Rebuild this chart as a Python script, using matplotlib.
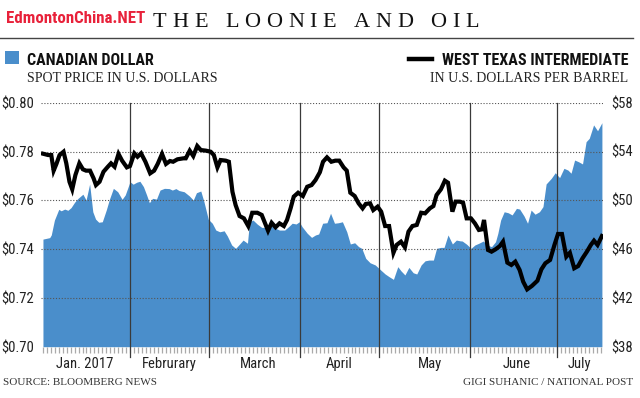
import matplotlib
matplotlib.use("Agg")
import matplotlib.pyplot as plt
from matplotlib import font_manager
import matplotlib.transforms as mtransforms

# ---------------- data (weekday index from Jan 2, 2017) ----------------
cad_day = [0.0, 1.7, 2.1, 2.9, 4.0, 4.6, 5.5, 6.3, 7.1, 8.0, 8.8, 10.1, 10.9, 11.8, 12.6, 13.3,
           14.1, 15.0, 16.0, 16.8, 17.8, 18.9, 20.0, 20.8, 22.0, 22.8, 23.7, 24.5, 25.4, 26.2,
           26.9, 27.7, 28.7, 29.6, 30.7, 31.9, 32.7, 33.6, 34.4, 35.7, 37.0, 38.0, 38.8, 39.9,
           40.7, 41.8, 42.8, 43.7, 44.7, 45.8, 46.6, 47.7, 48.7, 49.5, 50.6, 51.7, 52.2, 53.1,
           54.2, 55.3, 56.4, 57.5, 58.8, 59.8, 61.1, 62.1, 63.0, 64.0, 64.8, 65.5, 66.8, 67.9,
           68.9, 69.7, 70.7, 71.8, 72.7, 73.7, 74.7, 75.7, 76.8, 77.7, 78.8, 79.8, 80.6, 81.6,
           82.7, 84.0, 85.2, 86.5, 87.5, 88.6, 89.7, 90.5, 91.5, 92.5, 93.6, 94.5, 95.6, 96.6,
           97.6, 98.7, 99.5, 100.6, 101.4, 102.4, 103.5, 104.5, 105.4, 106.0, 107.1, 108.2,
           109.2, 110.2, 111.3, 112.3, 113.4, 114.4, 115.0, 115.7, 116.6, 117.6, 118.6, 119.7,
           120.5, 121.6, 122.5, 123.4, 124.4, 125.5, 126.4, 127.2, 128.5, 129.5, 130.6, 131.7,
           132.7, 133.5, 134.4, 135.4, 136.4, 137.3, 138.1, 139.2, 140.2, 141.3]
cad_val = [0.7441, 0.7447, 0.7458, 0.7519, 0.7563, 0.7557, 0.7564, 0.7559, 0.7570, 0.7592,
           0.7607, 0.7625, 0.7601, 0.7667, 0.7553, 0.7523, 0.7510, 0.7512, 0.7560, 0.7604,
           0.7649, 0.7635, 0.7604, 0.7622, 0.7676, 0.7666, 0.7674, 0.7678, 0.7656, 0.7622,
           0.7590, 0.7608, 0.7605, 0.7642, 0.7649, 0.7648, 0.7642, 0.7648, 0.7640, 0.7635,
           0.7618, 0.7601, 0.7631, 0.7638, 0.7594, 0.7522, 0.7506, 0.7478, 0.7471, 0.7475,
           0.7454, 0.7417, 0.7403, 0.7417, 0.7437, 0.7424, 0.7512, 0.7519, 0.7502, 0.7489,
           0.7489, 0.7499, 0.7485, 0.7478, 0.7478, 0.7492, 0.7506, 0.7503, 0.7512, 0.7492,
           0.7465, 0.7448, 0.7458, 0.7462, 0.7506, 0.7508, 0.7547, 0.7506, 0.7508, 0.7512,
           0.7471, 0.7421, 0.7426, 0.7410, 0.7403, 0.7362, 0.7344, 0.7335, 0.7317, 0.7298,
           0.7287, 0.7276, 0.7328, 0.7311, 0.7294, 0.7325, 0.7303, 0.7298, 0.7335, 0.7352,
           0.7355, 0.7355, 0.7403, 0.7407, 0.7407, 0.7458, 0.7421, 0.7437, 0.7434, 0.7433,
           0.7420, 0.7403, 0.7417, 0.7424, 0.7433, 0.7417, 0.7410, 0.7430, 0.7465, 0.7519,
           0.7553, 0.7549, 0.7540, 0.7567, 0.7564, 0.7536, 0.7506, 0.7560, 0.7543, 0.7553,
           0.7574, 0.7667, 0.7690, 0.7713, 0.7693, 0.7731, 0.7724, 0.7711, 0.7765, 0.7758,
           0.7749, 0.7840, 0.7854, 0.7909, 0.7885, 0.7918]

oil_day = [0.0, 1.3, 2.1, 2.7, 3.4, 4.2, 5.2, 5.9, 6.7, 7.4, 8.2, 9.2, 10.1, 10.9, 11.9, 12.8,
           13.4, 14.3, 15.3, 16.4, 17.2, 18.1, 19.1, 20.0, 21.2, 22.0, 23.1, 23.9, 24.8, 25.9,
           27.1, 28.1, 29.0, 30.1, 31.1, 32.1, 32.9, 34.0, 35.5, 36.1, 37.1, 38.0, 39.0, 39.9,
           41.2, 42.4, 43.2, 44.1, 44.9, 46.2, 47.0, 47.9, 48.7, 49.7, 50.8, 51.9, 52.9, 54.2,
           55.3, 56.1, 56.9, 57.8, 58.8, 59.8, 60.9, 61.7, 62.6, 63.4, 64.5, 65.7, 66.8, 67.9,
           68.9, 70.0, 70.8, 71.8, 72.9, 73.9, 74.9, 76.0, 76.8, 77.7, 78.8, 79.8, 80.8, 81.6,
           82.7, 83.5, 84.6, 85.5, 86.5, 87.5, 88.6, 89.4, 90.5, 91.5, 92.4, 93.4, 94.5, 95.6,
           96.6, 97.8, 98.7, 99.5, 100.6, 101.6, 102.4, 103.5, 104.3, 105.4, 106.2, 107.1,
           108.2, 109.2, 110.2, 111.0, 111.5, 112.1, 112.5, 113.4, 114.4, 115.5, 116.3, 117.4,
           118.4, 119.4, 120.5, 121.4, 122.4, 123.6, 125.0, 126.0, 127.0, 128.2, 129.3, 130.2,
           131.2, 132.3, 133.2, 134.3, 135.3, 136.4, 137.5, 138.5, 139.3, 140.2, 141.3]
oil_val = [53.82, 53.71, 53.71, 52.43, 52.98, 53.71, 53.98, 53.03, 51.52, 50.90, 52.07, 53.03,
           52.54, 52.43, 52.43, 51.80, 51.25, 51.52, 52.34, 52.75, 53.03, 52.75, 53.80, 53.25,
           52.70, 52.81, 53.85, 53.57, 53.85, 53.16, 52.21, 52.43, 52.98, 53.80, 52.98, 53.22,
           53.16, 53.36, 53.44, 53.44, 54.07, 53.63, 54.45, 54.12, 54.07, 53.98, 53.71, 52.70,
           53.30, 53.25, 53.16, 50.70, 49.61, 48.71, 48.52, 47.89, 48.98, 48.98, 48.80, 48.16,
           47.51, 48.16, 47.79, 48.11, 47.89, 48.39, 49.34, 50.30, 50.62, 50.35, 51.11, 51.25,
           51.66, 52.30, 53.16, 53.52, 53.16, 53.25, 53.25, 52.70, 52.43, 50.62, 50.35, 49.75,
           49.34, 49.70, 49.75, 49.20, 49.48, 49.07, 47.89, 47.89, 45.70, 46.34, 46.61, 46.15,
           47.43, 47.89, 47.98, 48.98, 48.93, 49.34, 49.53, 50.43, 50.90, 51.61, 51.44, 49.07,
           49.89, 49.89, 49.80, 48.52, 48.52, 48.11, 47.57, 47.62, 48.39, 46.89, 45.93, 45.79,
           45.98, 46.25, 46.61, 44.89, 44.70, 44.97, 44.29, 43.33, 42.70, 42.98, 43.41, 44.34,
           44.84, 45.11, 46.34, 47.24, 47.24, 45.38, 45.70, 44.43, 44.61, 45.25, 45.79, 46.34,
           46.69, 46.34, 47.07]

month_labels = ["Jan. 2017", "Februrary", "March", "April", "May", "June", "July"]
month_starts = [22, 42, 65, 85, 108, 130]          # weekday index of Feb 1 ... Jul 3
cad_ticks = [0.70, 0.72, 0.74, 0.76, 0.78, 0.80]
cad_tick_labels = ["$0.70", "$0.72", "$0.74", "$0.76", "$0.78", "$0.80"]
oil_ticks = [38, 42, 46, 50, 54, 58]
oil_tick_labels = ["$38", "$42", "$46", "$50", "$54", "$58"]

# ---------------- fonts ----------------
available = {f.name for f in font_manager.fontManager.ttflist}
def pick(*names):
    for n in names:
        if n in available:
            return n
    return "DejaVu Sans"
COND = pick("Liberation Sans Narrow", "Roboto Condensed", "Open Sans Condensed", "Roboto")
SERIF = pick("Liberation Serif", "DejaVu Serif")

W, H = 640, 398
BLUE = "#4a8ecb"
fig = plt.figure(figsize=(W / 100, H / 100), dpi=100)

def fx(x):
    return x / W
def fy(y):
    return 1 - y / H

# ---------------- axes ----------------
left_px, right_px, top_px, bot_px = 41.3, 602.7, 102.7, 346.7
ax = fig.add_axes([fx(left_px), fy(bot_px), fx(right_px) - fx(left_px), fy(top_px) - fy(bot_px)])
ax.fill_between(cad_day, cad_ticks[0], cad_val, color=BLUE, lw=0, zorder=1)
ax.set_xlim(-0.42, 141.5)
ax.set_ylim(cad_ticks[0], cad_ticks[-1])
for s in ax.spines.values():
    s.set_visible(False)

for v in cad_ticks[1:]:
    ax.axhline(v, color="#555555", lw=0.8, ls=(0, (1, 1.6)), zorder=3)

for m in month_starts:
    ax.axvline(m, ymin=-0.043, ymax=1, color="#3a3a3a", lw=0.9, zorder=4, clip_on=False)

ax.set_yticks(cad_ticks)
ax.set_yticklabels(cad_tick_labels)
ax.tick_params(axis="y", length=0, pad=5, labelsize=10.5, labelcolor="#222222")
for t in ax.get_yticklabels():
    t.set_fontfamily(COND)

ax.set_xticks(list(range(0, 142)))
ax.set_xticklabels([])
ax.tick_params(axis="x", length=4.5, width=0.9, color="#aaaaaa", direction="out")

label_pos = [10.5, 32.0, 54.3, 75.0, 97.8, 119.8, 135.7]
trans = mtransforms.blended_transform_factory(ax.transData, ax.transAxes)
for lab, xp in zip(month_labels, label_pos):
    ax.text(xp, -0.069, lab, transform=trans, ha="center", va="center",
            fontsize=10.5, family=COND, color="#222222")

ax2 = ax.twinx()
ax2.plot(oil_day, oil_val, color="black", lw=3.0, solid_joinstyle="miter", zorder=5)
ax2.set_ylim(oil_ticks[0], oil_ticks[-1])
ax2.set_xlim(ax.get_xlim())
for s in ax2.spines.values():
    s.set_visible(False)
ax2.set_yticks(oil_ticks)
ax2.set_yticklabels(oil_tick_labels)
ax2.tick_params(axis="y", length=0, pad=6, labelsize=10.5, labelcolor="#222222")
for t in ax2.get_yticklabels():
    t.set_fontfamily(COND)

# ---------------- header ----------------
fig.text(fx(6), fy(23), "EdmontonChina.NET", family=COND, fontweight="bold",
         fontsize=12.2, color="#e8213a", va="baseline", ha="left")

# tracked title
renderer = fig.canvas.get_renderer()
title = "THE LOONIE AND OIL"
tsize = 16
widths = []
for ch in title:
    if ch == " ":
        widths.append(tsize * 100 / 72 * 0.25)
    else:
        t = fig.text(0, 0, ch, family=SERIF, fontsize=tsize)
        widths.append(t.get_window_extent(renderer).width)
        t.remove()
x0, x1 = 153.0, 479.0
track = (x1 - x0 - sum(widths)) / (len(title) - 1)
xc = x0
for ch, w in zip(title, widths):
    if ch != " ":
        fig.text(fx(xc), fy(27), ch, family=SERIF, fontsize=tsize, color="#111111",
                 va="baseline", ha="left")
    xc += w + track

fig.add_artist(plt.Line2D([fx(0), fx(633)], [fy(38.3), fy(38.3)], color="#444444", lw=1.0))

# legend
fig.add_artist(plt.Rectangle((fx(5), fy(64)), fx(14), 13 / H, color=BLUE, lw=0))
fig.text(fx(27), fy(65), "CANADIAN DOLLAR", family=COND, fontweight="bold", fontsize=11.5,
         color="#111111", va="baseline", ha="left")
fig.text(fx(27), fy(82), "SPOT PRICE IN U.S. DOLLARS", family=SERIF, fontsize=10,
         color="#222222", va="baseline", ha="left")
fig.add_artist(plt.Line2D([fx(409), fx(432)], [fy(58.5), fy(58.5)], color="black", lw=3.2))
fig.text(fx(628), fy(65), "WEST TEXAS INTERMEDIATE", family=COND, fontweight="bold",
         fontsize=11.5, color="#111111", va="baseline", ha="right")
fig.text(fx(628), fy(82), "IN U.S. DOLLARS PER BARREL", family=SERIF, fontsize=10,
         color="#222222", va="baseline", ha="right")

# footer
fig.text(fx(3), fy(385), "SOURCE: BLOOMBERG NEWS", family=SERIF, fontsize=8,
         color="#333333", va="baseline", ha="left")
fig.text(fx(633), fy(385), "GIGI SUHANIC / NATIONAL POST", family=SERIF, fontsize=8,
         color="#333333", va="baseline", ha="right")

fig.savefig("out.png", dpi=100)
